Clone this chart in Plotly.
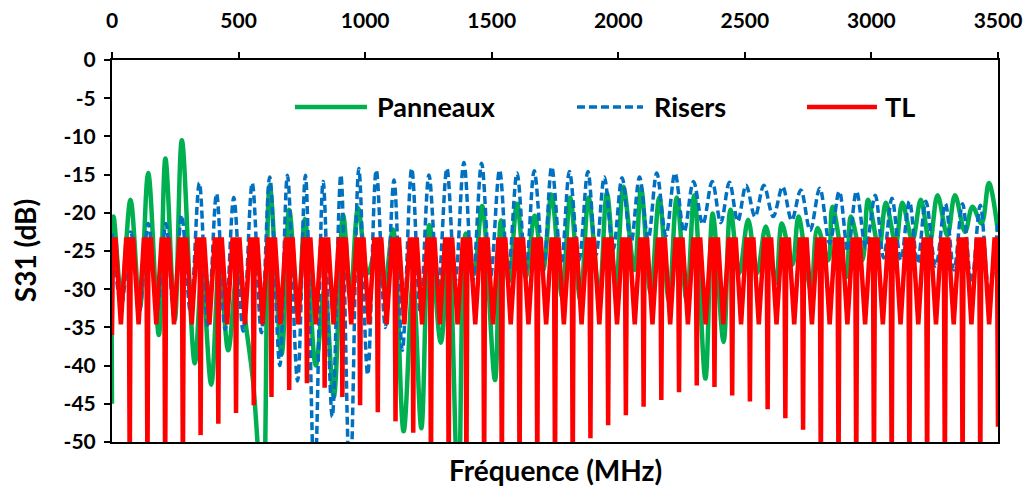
import plotly.graph_objects as go

# ---------------- data ----------------
x_tick_vals = [0, 500, 1000, 1500, 2000, 2500, 3000, 3500]
x_tick_text = ["0", "500", "1000", "1500", "2000", "2500", "3000", "3500"]
y_tick_vals = [0, -5, -10, -15, -20, -25, -30, -35, -40, -45, -50]
y_tick_text = ["0", "-5", "-10", "-15", "-20", "-25", "-30", "-35", "-40", "-45", "-50"]

# Panneaux (green): extrema (MHz, dB)
pan_mhz = [0, 6, 37, 73, 110, 143, 185, 211, 248, 276, 327, 355, 392, 425, 459, 497,
           530, 557, 596, 623, 670, 700, 735, 762, 805, 840, 876, 913, 942, 972, 1011,
           1045, 1075, 1110, 1152, 1189, 1222, 1254, 1299, 1330, 1368, 1398, 1430, 1462,
           1513, 1537, 1568, 1600, 1634, 1670, 1703, 1736, 1778, 1810, 1850, 1883, 1925,
           1955, 1991, 2020, 2064, 2090, 2128, 2162, 2200, 2231, 2270, 2300, 2344, 2373,
           2416, 2443, 2478, 2513, 2548, 2583, 2623, 2646, 2688, 2712, 2761, 2787, 2830,
           2846, 2901, 2919, 2964, 2987, 3030, 3057, 3096, 3122, 3162, 3195, 3230, 3261,
           3300, 3330, 3370, 3399, 3435, 3464, 3500]
pan_db = [-45, -20.5, -31, -18.3, -32.5, -14.8, -36, -12.9, -34, -10.5, -39.7, -28, -42.5,
          -26, -38, -27, -35, -42, -58, -16.4, -38.5, -19.6, -33, -20.8, -40, -30, -44.1,
          -20.3, -31, -19.4, -27.9, -24.5, -30, -22.2, -48.6, -29, -48.2, -21.6, -37, -25,
          -58, -22.7, -28, -19.1, -41.9, -21, -29, -18.8, -28.4, -20.4, -27.5, -17.6, -31,
          -18, -31.4, -18, -30.8, -17.4, -29.7, -16.6, -27.5, -16.8, -30.5, -18, -31.5, -18,
          -31.5, -17.7, -41.7, -20.1, -36.9, -19.6, -27.9, -20.9, -27.9, -21.8, -29.2,
          -21.4, -26.8, -20.5, -30.1, -22, -26.2, -19.2, -28.4, -20.5, -26.2, -18.3, -24.7,
          -18.7, -24, -18.7, -23.6, -18.3, -24, -17.7, -23, -17.7, -22.5, -19.2, -21.4,
          -16.1, -22.5]

# Risers (blue dashed): extrema (MHz, dB)
ris_mhz = [0, 37, 74, 108, 143, 178, 213, 244, 275, 310, 345, 379, 413, 447, 481, 518,
           554, 590, 623, 663, 693, 733, 764, 800, 834, 870, 904, 940, 975, 1010, 1044,
           1080, 1114, 1147, 1184, 1218, 1252, 1288, 1323, 1356, 1390, 1425, 1460, 1495,
           1531, 1565, 1600, 1635, 1668, 1705, 1737, 1775, 1807, 1845, 1880, 1912, 1945,
           1980, 2015, 2050, 2084, 2118, 2152, 2188, 2224, 2260, 2297, 2334, 2371, 2405,
           2439, 2472, 2505, 2540, 2575, 2612, 2649, 2685, 2721, 2758, 2796, 2835, 2873,
           2907, 2941, 2978, 3015, 3048, 3081, 3116, 3150, 3182, 3215, 3254, 3292, 3326,
           3360, 3395, 3430, 3465, 3500]
ris_db = [-22.7, -32, -22.5, -33, -21.4, -33, -21.4, -33, -20.3, -33, -16.1, -35, -17.5,
          -35.3, -18, -35.5, -16.1, -35.7, -15.3, -40, -15.1, -42, -15.1, -56, -15.9, -46.7,
          -15.05, -56, -14.2, -41.2, -14.4, -35, -15.7, -38, -14.2, -33, -15.05, -30, -14.2,
          -29, -13.4, -29, -13.5, -28.5, -14.4, -28, -14.8, -27.5, -14.5, -27, -14.0, -26.6,
          -14.6, -26.2, -14.6, -25.5, -15.3, -24.8, -15.4, -24, -15.3, -23.5, -14.8, -23,
          -14.8, -22.5, -15.9, -21.5, -15.9, -21.3, -16.0, -21.1, -16.4, -20.5, -16.4, -20.5,
          -16.6, -21, -17.0, -22.3, -16.8, -24, -17.2, -25, -17.2, -24.6, -17.7, -25.9,
          -18.1, -26.2, -18.5, -26.6, -18.5, -27, -18.8, -27.5, -18.8, -29.2, -19.0, -30.5,
          -21]

# TL (red): notch frequencies and depths, crest / trough levels
tl_start_db = -36
tl_notch_mhz = [70, 140, 210, 280, 350, 420, 490, 560, 630, 700, 770, 840, 910, 980, 1050,
                1120, 1190, 1260, 1330, 1400, 1470, 1540, 1610, 1680, 1750, 1820, 1890,
                1960, 2030, 2100, 2170, 2240, 2310, 2380, 2450, 2520, 2590, 2660, 2730,
                2800, 2870, 2940, 3010, 3080, 3150, 3220, 3290, 3360, 3430, 3500]
tl_notch_db = [-55, -55, -55, -55, -49.1, -47.6, -46.2, -45.2, -44.1, -43.2, -42.3, -42.9,
               -44.1, -45.2, -46.1, -47.3, -48.8, -55, -55, -55, -55, -55, -55, -55, -55,
               -55, -49.5, -47.8, -46.5, -45.4, -44.5, -43.5, -42.6, -42.8, -43.9, -44.7,
               -45.7, -46.9, -48.4, -55, -55, -55, -55, -55, -55, -55, -55, -55, -55, -48]
tl_crest_db = -23.5
tl_trough_db = -34.6
tl_crest_offsets_mhz = [4, 14]   # crest shoulders either side of a notch
tl_trough_offset_mhz = 35        # trough half-way between notches

# build TL point list from the read values
tl_x = [0, tl_crest_offsets_mhz[0], tl_crest_offsets_mhz[1]]
tl_y = [tl_start_db, tl_crest_db, tl_crest_db]
for f, d in zip(tl_notch_mhz, tl_notch_db):
    tl_x += [f - tl_trough_offset_mhz, f - tl_crest_offsets_mhz[1], f - tl_crest_offsets_mhz[0], f]
    tl_y += [tl_trough_db, tl_crest_db, tl_crest_db, d]
    if f < tl_notch_mhz[-1]:
        tl_x += [f + tl_crest_offsets_mhz[0], f + tl_crest_offsets_mhz[1]]
        tl_y += [tl_crest_db, tl_crest_db]

GREEN = "#00B050"
BLUE = "#0070C0"
RED = "#FF0000"
FONT = "Lato"
BLUE_DASH = "8px,4px"

fig = go.Figure()
fig.add_trace(go.Scatter(x=pan_mhz, y=pan_db, name="Panneaux", mode="lines",
                         line=dict(color=GREEN, width=4.5, shape="spline", smoothing=1.0),
                         showlegend=False))
fig.add_trace(go.Scatter(x=ris_mhz, y=ris_db, name="Risers", mode="lines",
                         line=dict(color=BLUE, width=3.5, dash=BLUE_DASH, shape="spline", smoothing=1.0),
                         showlegend=False))
fig.add_trace(go.Scatter(x=tl_x, y=tl_y, name="TL", mode="lines",
                         line=dict(color=RED, width=4.5, shape="linear"),
                         showlegend=False))

# manual legend (long line samples as in the reference)
legend_items = [("Panneaux", GREEN, "solid", 0.2065, 0.2878, 0.2968),
                ("Risers", BLUE, "dash", 0.5248, 0.5993, 0.6095),
                ("TL", RED, "solid", 0.7844, 0.8634, 0.8702)]
ly = 0.877
for name, col, dash, x0, x1, xt in legend_items:
    fig.add_shape(type="line", xref="paper", yref="paper", x0=x0, x1=x1, y0=ly, y1=ly,
                  line=dict(color=col, width=4.5 if dash == "solid" else 3.5,
                            dash="solid" if dash == "solid" else BLUE_DASH))
    fig.add_annotation(xref="paper", yref="paper", x=xt, y=ly, text=name, showarrow=False,
                       xanchor="left", yanchor="middle",
                       font=dict(family=FONT, size=27, color="black", weight="bold"))

fig.add_annotation(xref="paper", yref="paper", x=0.501, y=-0.073, text="Fréquence (MHz)",
                   showarrow=False, xanchor="center", yanchor="middle",
                   font=dict(family=FONT, size=28, color="black", weight="bold"))
fig.add_annotation(xref="paper", yref="paper", x=-0.098, y=0.5, text="S31 (dB)", textangle=-90,
                   showarrow=False, xanchor="center", yanchor="middle",
                   font=dict(family=FONT, size=28, color="black", weight="bold"))

axis_font = dict(family=FONT, size=21, color="black", weight="bold")
fig.update_layout(
    width=1032, height=494,
    margin=dict(l=112, r=34, t=60, b=52),
    paper_bgcolor="white", plot_bgcolor="white",
    showlegend=False,
    xaxis=dict(side="top", range=[0, 3500], tickvals=x_tick_vals, ticktext=x_tick_text,
               ticks="outside", ticklen=6, tickwidth=2, tickcolor="black",
               showline=True, linecolor="black", linewidth=2, mirror=True, automargin=False,
               showgrid=False, zeroline=False, tickfont=axis_font, ticklabelstandoff=16),
    yaxis=dict(range=[-50, 0], tickvals=y_tick_vals, ticktext=y_tick_text,
               ticks="outside", ticklen=6, tickwidth=2, tickcolor="black",
               showline=True, linecolor="black", linewidth=2, mirror=True, automargin=False,
               showgrid=False, zeroline=False, tickfont=axis_font, ticklabelstandoff=4),
)

# remove the browser's default page margin so the figure fills the window exactly
fig.write_html("out.html", config={"displayModeBar": False},
               post_script="document.body.style.margin='0';document.body.style.overflow='hidden';")
